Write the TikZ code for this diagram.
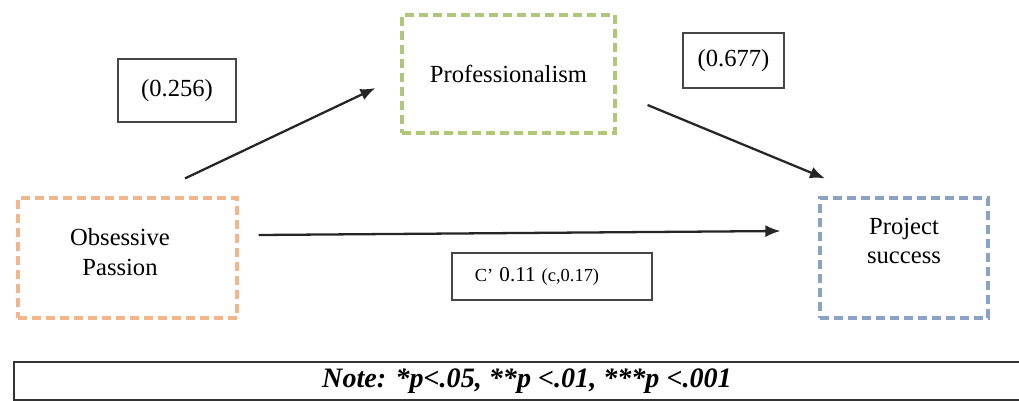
\documentclass[tikz,border=0pt]{standalone}
\usepackage{fontspec}
\setmainfont{Liberation Serif}
\usetikzlibrary{arrows.meta,positioning,calc}
\definecolor{opOrange}{RGB}{242,182,140}
\definecolor{profGreen}{RGB}{176,198,120}
\definecolor{psBlue}{RGB}{140,162,196}
\definecolor{boxGray}{RGB}{70,70,70}

\begin{document}
\begin{tikzpicture}[x=0.02cm, y=-0.02cm,
    every node/.style={font=\fontsize{14}{17}\selectfont, align=center},
    varbox/.style={draw, dash pattern=on 0.18cm off 0.1cm, line width=1.8pt, minimum height=2.4cm, inner sep=0pt},
    coefbox/.style={draw=boxGray, line width=1.2pt, inner sep=0pt},
    link/.style={-{Latex[length=0.3cm,width=0.24cm]}, line width=1.3pt, draw=black!85}]
    \useasboundingbox (0,0) rectangle (1019,400);
    % the three variables (dashed boxes)
    \node[varbox, draw=opOrange, minimum width=4.38cm] (op) at (127.5,258) {};
    \node (opText) at ([xshift=-0.15cm, yshift=0.12cm]op.center) {Obsessive\\Passion};
    \node[varbox, draw=profGreen, minimum width=4.26cm, minimum height=2.36cm] (prof) at (508.5,74) {};
    \node (profText) at (prof.center) {Professionalism};
    \node[varbox, draw=psBlue, minimum width=3.36cm] (ps) at (904,258) {};
    \node (psText) at ([yshift=0.34cm]ps.center) {Project\\success};
    % path coefficients
    \node[coefbox, minimum width=2.36cm, minimum height=1.26cm] (aCoef) at (177,90.5) {(0.256)};
    \node[coefbox, minimum width=2.02cm, minimum height=1.10cm] (bCoef) at (733.5,60.5) {(0.677)};
    \node[coefbox, minimum width=4.0cm, minimum height=0.94cm] (cCoef) at (552,276.5) {};
    \node (cText) at (537,276) {{\fontsize{10.5}{12}\selectfont C'}~{\fontsize{12}{14}\selectfont 0.11}~{\fontsize{10.5}{12}\selectfont (c,0.17)}};
    % arrows
    \draw[link] ($(op.north)+(57.5,-18)$) -- ($(prof.west)+(-25,14)$);
    \draw[link] ($(prof.east)+(31,31)$) -- ($(ps.north)+(-79,-18)$);
    \draw[link] ($(op.east)+(20,-23)$) -- ($(ps.west)+(-38,-27)$);
    % note line at the bottom
    \node[draw=black!80, line width=1.2pt, minimum width=20.52cm, minimum height=0.76cm, inner sep=0pt, font=\fontsize{16}{18}\selectfont\bfseries\itshape] (note) at (527,381) {Note: *p<.05, **p <.01, ***p <.001};
\end{tikzpicture}
\end{document}
